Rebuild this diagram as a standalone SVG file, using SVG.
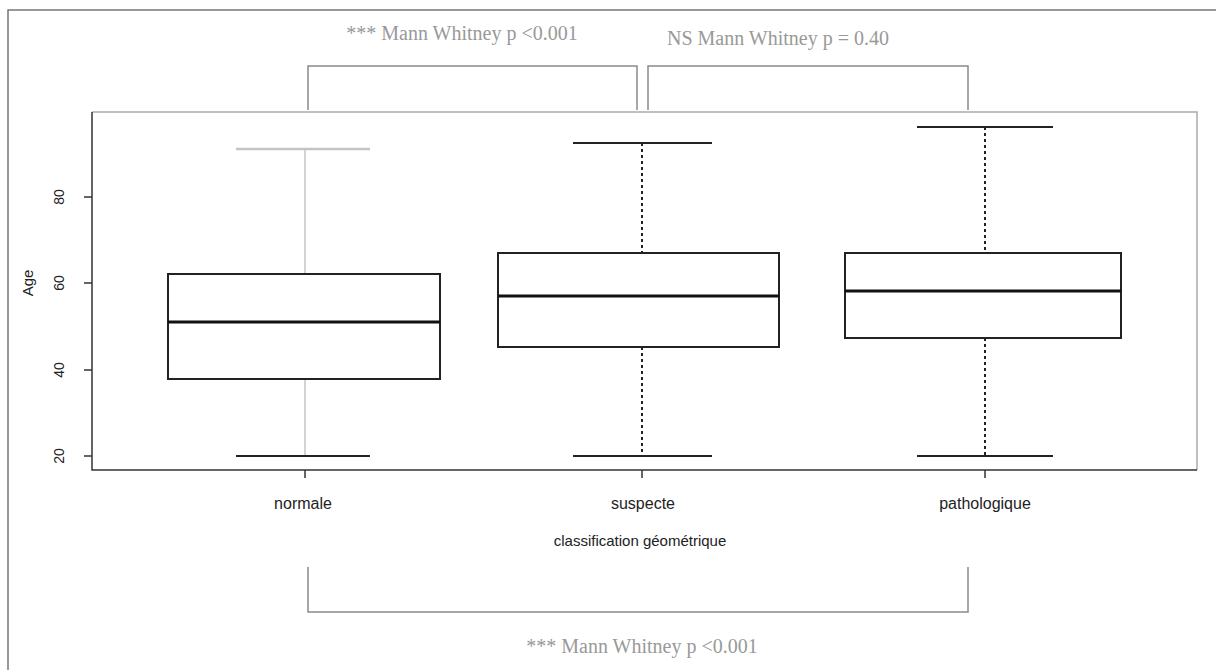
<svg xmlns="http://www.w3.org/2000/svg" width="1216" height="670" viewBox="0 0 1216 670">
<style>
.ann{font-family:"Liberation Serif","Times New Roman",serif;font-size:20px;fill:#999;text-anchor:middle}
.lab{font-family:"Liberation Sans",Arial,sans-serif;font-size:16px;fill:#222;text-anchor:middle}
.tick{font-family:"Liberation Sans",Arial,sans-serif;font-size:14px;fill:#222;text-anchor:middle}
.brk{fill:none;stroke:#8a8a8a;stroke-width:1.5}
.box{fill:#fff;stroke:#222;stroke-width:2}
.med{stroke:#111;stroke-width:3}
.cap{stroke:#222;stroke-width:2}
.wdash{stroke:#222;stroke-width:2;stroke-dasharray:3,3}
.wlight{stroke:#c4c4c4;stroke-width:1.5}
.axis{stroke:#333;stroke-width:1.5;fill:none}
</style>
<rect x="0" y="0" width="1216" height="670" fill="#fff"/>
<path d="M8,670 V10 H1216" fill="none" stroke="#777" stroke-width="1.5"/>
<g id="plot-frame">
<path d="M92,112 H1197 V470" fill="none" stroke="#aaa" stroke-width="1.5"/>
<path d="M92,112 V470 H1197" class="axis"/>
</g>
<g id="y-axis">
<line x1="84" y1="197" x2="92" y2="197" class="axis"/>
<line x1="84" y1="283" x2="92" y2="283" class="axis"/>
<line x1="84" y1="370" x2="92" y2="370" class="axis"/>
<line x1="84" y1="456" x2="92" y2="456" class="axis"/>
<text class="tick" transform="translate(64,197) rotate(-90)">80</text>
<text class="tick" transform="translate(64,283) rotate(-90)">60</text>
<text class="tick" transform="translate(64,370) rotate(-90)">40</text>
<text class="tick" transform="translate(64,456) rotate(-90)">20</text>
<text class="tick" transform="translate(33,283) rotate(-90)" style="font-size:15px">Age</text>
</g>
<g id="x-axis">
<line x1="305" y1="470" x2="305" y2="478" class="axis"/>
<line x1="642" y1="470" x2="642" y2="478" class="axis"/>
<line x1="985" y1="470" x2="985" y2="478" class="axis"/>
<text class="lab" x="303" y="509">normale</text>
<text class="lab" x="643" y="509">suspecte</text>
<text class="lab" x="985" y="509">pathologique</text>
<text class="lab" x="640" y="546" style="font-size:15px">classification géométrique</text>
</g>
<g id="box-normale">
<line x1="305" y1="149" x2="305" y2="274" class="wlight"/>
<line x1="305" y1="379" x2="305" y2="456" class="wlight"/>
<line x1="236" y1="149" x2="370" y2="149" stroke="#c4c4c4" stroke-width="2.5"/>
<line x1="236" y1="456" x2="370" y2="456" class="cap"/>
<rect x="168" y="274" width="272" height="105" class="box"/>
<line x1="168" y1="322" x2="440" y2="322" class="med"/>
</g>
<g id="box-suspecte">
<line x1="642" y1="143" x2="642" y2="253" class="wdash"/>
<line x1="642" y1="347" x2="642" y2="456" class="wdash"/>
<line x1="573" y1="143" x2="712" y2="143" class="cap"/>
<line x1="573" y1="456" x2="712" y2="456" class="cap"/>
<rect x="498" y="253" width="281" height="94" class="box"/>
<line x1="498" y1="296" x2="779" y2="296" class="med"/>
</g>
<g id="box-pathologique">
<line x1="985" y1="127" x2="985" y2="253" class="wdash"/>
<line x1="985" y1="338" x2="985" y2="456" class="wdash"/>
<line x1="917" y1="127" x2="1053" y2="127" class="cap"/>
<line x1="917" y1="456" x2="1053" y2="456" class="cap"/>
<rect x="845" y="253" width="276" height="85" class="box"/>
<line x1="845" y1="291" x2="1121" y2="291" class="med"/>
</g>
<g id="connectors">
<path d="M308,110 V66 H637 V110" class="brk"/>
<path d="M648,110 V66 H968 V110" class="brk"/>
<path d="M308,567 V612 H968 V567" class="brk"/>
</g>
<g id="annotations">
<text class="ann" x="462" y="40">*** Mann Whitney p &lt;0.001</text>
<text class="ann" x="778" y="45">NS Mann Whitney p = 0.40</text>
<text class="ann" x="642" y="653">*** Mann Whitney p &lt;0.001</text>
</g>
</svg>
